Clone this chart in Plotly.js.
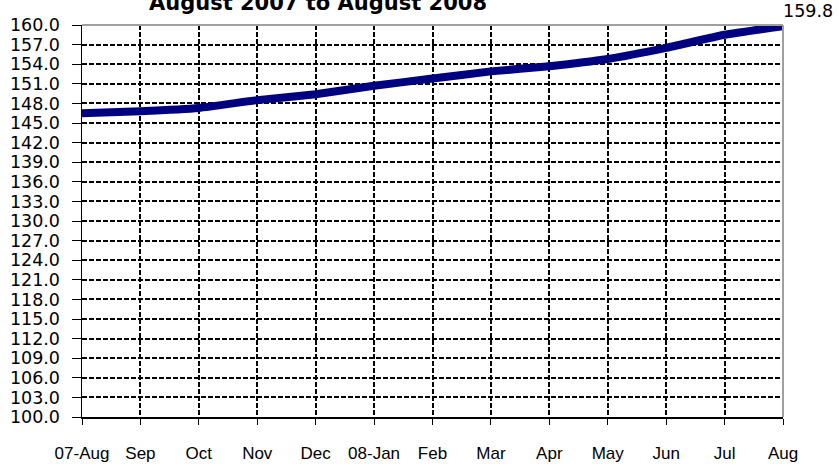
<!DOCTYPE html>
<html>
<head>
<meta charset="utf-8">
<script src="https://cdn.plot.ly/plotly-3.0.1.min.js"></script>
<style>html,body{margin:0;padding:0;background:#fff;}#chart{width:839px;height:464px;}</style>
</head>
<body>
<div id="chart"></div>
<script>
const months = ["07-Aug","Sep","Oct","Nov","Dec","08-Jan","Feb","Mar","Apr","May","Jun","Jul","Aug"];
const values = [146.5, 146.8, 147.3, 148.5, 149.4, 150.7, 151.8, 152.9, 153.7, 154.8, 156.5, 158.5, 159.8];
const titleText = "August 2007 to August 2008";
const lastLabel = values[values.length - 1].toFixed(1);

const trace = {
  x: months, y: values, type: "scatter", mode: "lines",
  line: {color: "#000080", width: 8, shape: "spline", smoothing: 0.4},
  hoverinfo: "skip"
};

const layout = {
  width: 839, height: 464,
  margin: {l: 82, r: 56, t: 25, b: 47, pad: 0},
  paper_bgcolor: "#ffffff", plot_bgcolor: "#ffffff",
  showlegend: false,
  title: {
    text: "<b>" + titleText + "</b>",
    font: {family: "DejaVu Sans, Arial, sans-serif", size: 21, color: "#000"},
    x: 318/839, xanchor: "center", xref: "container",
    y: 1 - 10/464, yanchor: "bottom", yref: "container"
  },
  xaxis: {
    type: "category", range: [0, months.length - 1],
    showgrid: true, gridcolor: "#000", gridwidth: 2, griddash: "5px,2px",
    showline: true, linecolor: "#000", linewidth: 1.5,
    ticks: "outside", ticklen: 6, tickwidth: 1, tickcolor: "#000",
    ticklabelstandoff: 14,
    tickfont: {family: "Liberation Sans, Arial, sans-serif", size: 17, color: "#000"},
    zeroline: false, fixedrange: true
  },
  yaxis: {
    range: [100, 160], dtick: 3, tick0: 100, tickformat: ".1f",
    showgrid: true, gridcolor: "#000", gridwidth: 2, griddash: "5px,2px",
    showline: true, linecolor: "#000", linewidth: 1.5,
    ticks: "outside", ticklen: 9, tickwidth: 1, tickcolor: "#000",
    ticklabelstandoff: 8,
    tickfont: {family: "DejaVu Sans, Arial, sans-serif", size: 17.5, color: "#000"},
    zeroline: false, fixedrange: true
  },
  shapes: [
    {type: "line", xref: "paper", yref: "paper", x0: 0, x1: 1, y0: 1, y1: 1, line: {color: "#a0a0a0", width: 2}},
    {type: "line", xref: "paper", yref: "paper", x0: 1, x1: 1, y0: 0, y1: 1, line: {color: "#a0a0a0", width: 2}}
  ],
  annotations: [
    {x: months[months.length - 1], y: values[values.length - 1], xref: "x", yref: "y",
     text: lastLabel, showarrow: false, xanchor: "left", yanchor: "bottom",
     xshift: -2, yshift: 3,
     font: {family: "DejaVu Sans, Arial, sans-serif", size: 17.5, color: "#000"}}
  ]
};

Plotly.newPlot("chart", [trace], layout, {displayModeBar: false, staticPlot: true});
</script>
</body>
</html>
